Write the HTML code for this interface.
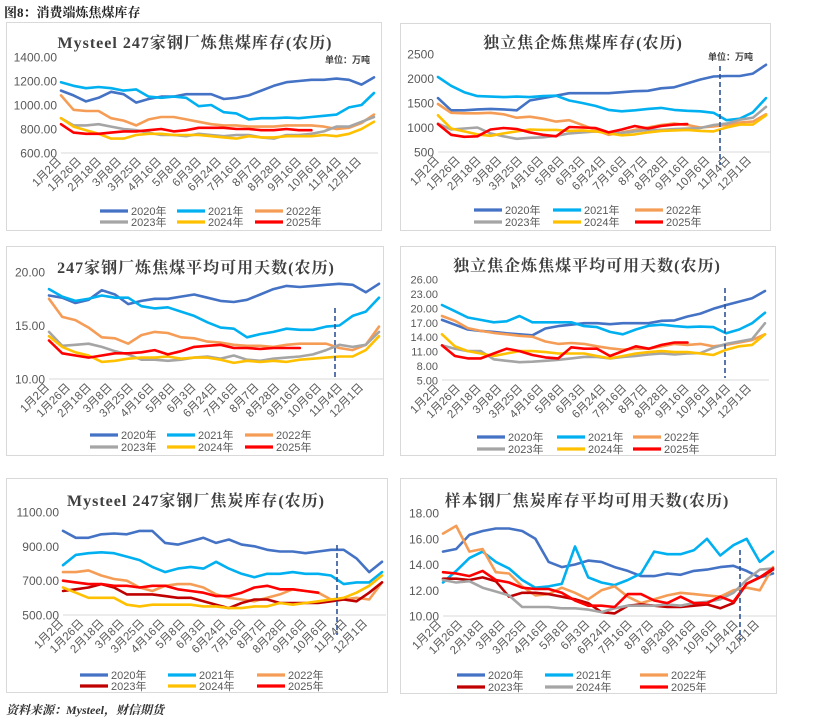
<!DOCTYPE html>
<html><head><meta charset="utf-8">
<style>
body{margin:0;background:#fff;}
svg{display:block;font-family:"Liberation Sans","Noto Sans CJK SC",sans-serif;}
.ttl{font-family:"Liberation Serif","Noto Serif CJK SC",serif;font-weight:bold;fill:#404040;font-size:16px;letter-spacing:1px;}
</style></head>
<body>
<svg id="c" width="831" height="718" viewBox="0 0 831 718" xmlns="http://www.w3.org/2000/svg">
<text x="4" y="17" font-size="13" font-weight="bold" fill="#222" font-family="'Liberation Serif','Noto Serif CJK SC',serif">图8：消费端炼焦煤库存</text>
<text x="6" y="714" font-size="12" font-style="italic" font-weight="bold" fill="#333" font-family="'Liberation Serif','Noto Serif CJK SC',serif">资料来源：Mysteel，财信期货</text>
</svg>
<script>
const categories=["1月2日","1月26日","2月18日","3月8日","3月25日","4月16日","5月8日","6月3日","6月24日","7月16日","8月7日","8月28日","9月16日","10月6日","11月4日","12月1日"];
const years=["2020年","2021年","2022年","2023年","2024年","2025年"];
// Panel 1
const p1_2020=[1120,1080,1030,1060,1110,1090,1020,1050,1070,1070,1090,1090,1090,1050,1060,1080,1120,1160,1190,1200,1210,1210,1220,1210,1170,1230];
const p1_2021=[1190,1160,1140,1150,1140,1120,1130,1070,1060,1070,1060,990,1000,940,930,880,890,890,895,890,900,910,920,980,1000,1100];
const p1_2022=[1080,960,950,950,890,870,830,880,900,900,880,860,840,830,830,820,820,820,830,830,830,820,800,810,850,920];
const p1_2023=[890,830,830,840,820,800,790,770,750,750,740,760,750,740,750,750,730,720,750,750,760,780,820,820,860,900];
const p1_2024=[890,820,790,760,720,720,750,760,760,750,750,750,740,730,720,740,730,730,740,740,740,750,740,760,800,860];
const p1_2025=[840,770,760,760,770,780,780,790,800,780,790,810,810,810,800,800,790,790,800,790,790];
const p1_ticks=[600,800,1000,1200,1400];
// Panel 2
const p2_2020=[1600,1350,1350,1370,1380,1370,1350,1550,1600,1650,1700,1700,1700,1700,1720,1740,1750,1800,1820,1900,1980,2040,2050,2050,2100,2280];
const p2_2021=[2030,1850,1720,1640,1630,1620,1630,1620,1640,1650,1550,1500,1440,1360,1330,1350,1380,1400,1360,1340,1330,1300,1150,1180,1310,1600];
const p2_2022=[1480,1300,1290,1290,1300,1270,1200,1220,1180,1120,1150,1050,950,850,900,950,1000,1050,1080,1050,1000,1020,1050,1100,1120,1270];
const p2_2023=[1080,960,980,1000,880,820,770,790,800,830,880,900,920,900,890,920,950,950,970,980,990,1050,1080,1160,1200,1420];
const p2_2024=[1250,980,920,860,830,880,920,960,950,950,930,940,920,880,840,860,900,930,940,950,930,920,1000,1060,1060,1250];
const p2_2025=[1070,850,810,820,960,990,970,900,850,820,1010,1000,990,900,960,1030,980,1030,1060,1070];
const p2_ticks=[500,1000,1500,2000,2500];
// Panel 3
const p3_2020=[17.8,17.6,17.1,17.4,18.3,17.9,17.0,17.3,17.5,17.5,17.7,17.9,17.6,17.3,17.2,17.4,17.9,18.4,18.7,18.6,18.7,18.8,18.9,18.8,18.1,18.9];
const p3_2021=[18.4,17.7,17.3,17.5,17.8,17.6,17.6,16.8,16.6,16.7,16.3,15.9,15.3,14.8,14.7,13.9,14.2,14.4,14.7,14.6,14.6,14.9,15.0,15.9,16.3,17.6];
const p3_2022=[17.5,15.8,15.5,14.8,13.9,13.8,13.3,14.1,14.4,14.3,13.9,13.8,13.5,13.4,13.2,13.1,13.1,13.0,13.2,13.3,13.3,13.3,12.9,12.7,13.2,14.9];
const p3_2023=[14.4,13.1,13.2,13.3,13.0,12.6,12.3,11.8,11.8,11.7,11.8,12.0,12.1,11.9,12.2,11.8,11.7,11.9,12.0,12.1,12.3,12.7,13.2,13.0,13.2,14.4];
const p3_2024=[14.0,13.0,12.5,12.2,11.6,11.7,11.9,12.0,12.0,12.1,11.9,12.0,12.0,11.8,11.5,11.7,11.6,11.7,11.6,11.8,11.9,12.0,12.1,12.1,12.7,14.0];
const p3_2025=[13.6,12.4,12.2,12.0,12.2,12.4,12.4,12.5,12.7,12.3,12.6,13.0,13.1,13.2,12.9,12.9,12.8,12.9,12.9,12.9];
const p3_ticks=[10,15,20];
// Panel 4
const p4_2020=[17.5,16.5,15.5,15.2,15.0,14.7,14.5,14.3,15.7,16.2,16.5,16.8,16.8,16.6,16.8,16.8,16.8,17.3,17.4,18.2,18.8,19.8,20.6,21.3,22.0,23.5];
const p4_2021=[20.6,19.3,18.0,17.5,17.0,17.2,18.3,17.0,17.0,17.0,17.0,16.2,16.0,15.0,14.5,15.5,16.3,16.5,16.2,16.0,16.1,16.0,14.7,15.5,16.8,19.0];
const p4_2022=[18.3,17.3,15.8,15.2,14.8,14.5,14.2,14.0,13.0,12.5,12.7,12.5,12.0,11.6,11.3,11.5,11.5,12.0,12.5,12.3,12.5,12.0,12.3,12.8,13.3,14.5];
const p4_2023=[12.2,11.5,11.0,11.0,9.3,9.0,8.7,8.8,9.0,9.2,9.5,9.8,9.8,9.5,9.8,10.0,10.3,10.5,10.3,10.5,10.6,11.7,12.5,13.0,13.5,16.8];
const p4_2024=[14.5,12.0,11.0,10.5,10.0,10.5,11.0,11.0,10.8,10.5,10.5,10.5,10.0,9.5,10.0,10.5,10.8,11.0,10.8,10.8,10.5,10.2,11.3,12.0,12.3,14.5];
const p4_2025=[12.2,10.0,9.5,9.5,10.5,11.5,11.0,10.2,9.7,9.5,11.8,11.5,11.5,10.0,11.0,12.0,11.5,12.3,12.8,12.8];
const p4_ticks=[5,8,11,14,17,20,23,26];
// Panel 5
const p5_2020=[990,950,950,970,975,970,990,990,920,910,930,950,920,940,910,900,880,870,870,860,870,880,880,830,750,810];
const p5_2021=[790,850,860,865,860,840,820,780,750,770,780,770,810,770,740,720,740,740,750,740,740,730,680,690,690,750];
const p5_2022=[750,750,760,730,710,700,660,640,670,680,680,660,620,600,590,580,600,620,650,640,630,590,590,600,590,690];
const p5_2023=[640,650,660,680,660,620,620,620,610,600,600,580,560,540,570,590,590,570,570,570,570,580,590,580,630,690];
const p5_2024=[660,630,600,600,600,560,550,560,560,560,560,550,550,540,540,550,550,570,560,570,580,590,600,630,670,730];
const p5_2025=[700,690,680,680,670,670,660,670,670,650,640,630,610,610,630,660,670,650,650,640,630];
const p5_ticks=[500,700,900,1100];
// Panel 6
const p6_2020=[15.0,15.2,16.3,16.6,16.8,16.8,16.6,16.0,14.2,13.8,14.0,14.3,14.2,13.8,13.5,13.1,13.1,13.3,13.2,13.5,13.6,13.8,13.9,13.5,13.0,13.3];
const p6_2021=[12.6,13.5,14.5,15.0,14.2,13.7,12.8,12.2,12.3,12.5,15.4,13.0,12.6,12.4,12.8,13.3,15.0,14.8,14.8,15.1,16.0,14.7,15.5,16.0,14.2,15.0];
const p6_2022=[16.4,17.0,15.0,15.2,13.4,13.3,12.3,11.6,11.7,12.2,11.8,11.3,12.0,12.3,11.5,11.0,11.3,11.6,11.8,11.7,11.6,11.5,12.0,12.2,12.0,13.8];
const p6_2023=[12.9,12.9,12.8,13.0,12.7,11.5,11.8,11.8,11.7,11.5,11.3,11.0,10.3,10.2,10.8,10.9,10.8,10.7,10.7,10.8,10.9,10.6,11.0,12.5,13.0,13.6];
const p6_2024=[12.8,12.6,12.7,12.2,11.9,11.6,10.7,10.7,10.7,10.6,10.6,10.5,10.3,10.6,10.8,10.8,10.8,10.9,10.8,11.0,11.1,11.3,11.8,12.8,13.6,13.7];
const p6_2025=[13.4,13.3,13.1,13.5,12.8,12.6,12.2,12.1,12.1,11.8,11.2,10.8,10.8,10.7,11.7,11.7,11.2,11.0,11.5,11.0,11.0,11.5,11.1,12.5,13.0,13.7];
const p6_ticks=[10,12,14,16,18];

const NS="http://www.w3.org/2000/svg";
const svg=document.getElementById('c');
const C6=["#4472C4","#00B0F0","#F59D56","#A5A5A5","#FFC000","#FF0000"];
const C5=["#4472C4","#00B0F0","#F59D56","#C00000","#FFC000","#FF0000"];
const C6b=["#4472C4","#00B0F0","#F59D56","#C00000","#A5A5A5","#FF0000"];
const panels=[
 {name:"p1",box:[6,22,375,208],x0:61,x1:374,vmin:600,vmax:1400,ybot:153,ytop:57,ticks:p1_ticks,dec:2,title:"Mysteel 247家钢厂炼焦煤库存(农历)",tx:195,ty:48,series:[p1_2020,p1_2021,p1_2022,p1_2023,p1_2024,p1_2025],colors:C6,unit:[325,63],dash:null,leg:[100,177,255],ly:[211,222],lab0:62,lab1:362,fs:12},
 {name:"p2",box:[400,23,370,207],x0:438,x1:766,vmin:500,vmax:2500,ybot:152,ytop:54,ticks:p2_ticks,dec:0,title:"独立焦企炼焦煤库存(农历)",tx:583,ty:48,series:[p2_2020,p2_2021,p2_2022,p2_2023,p2_2024,p2_2025],colors:C6,unit:[708,60],dash:[720,66,165],leg:[474,553,635],ly:[210,222],lab0:440,lab1:752,fs:12},
 {name:"p3",box:[6,246,377,209],x0:49,x1:379,vmin:10,vmax:20,ybot:379,ytop:272,ticks:p3_ticks,dec:2,title:"247家钢厂炼焦煤平均可用天数(农历)",tx:196,ty:273,series:[p3_2020,p3_2021,p3_2022,p3_2023,p3_2024,p3_2025],colors:C6,unit:null,dash:[335,308,380],leg:[90,167,245],ly:[435,447],lab0:50,lab1:364,fs:12},
 {name:"p4",box:[400,246,375,209],x0:442,x1:765,vmin:5,vmax:26,ybot:380,ytop:279,ticks:p4_ticks,dec:2,title:"独立焦企炼焦煤平均可用天数(农历)",tx:587,ty:271,series:[p4_2020,p4_2021,p4_2022,p4_2023,p4_2024,p4_2025],colors:C6,unit:null,dash:[725,288,378],leg:[477,557,633],ly:[437,449],lab0:440,lab1:752,fs:11},
 {name:"p5",box:[6,478,381,214],x0:63,x1:382,vmin:500,vmax:1100,ybot:615,ytop:512,ticks:p5_ticks,dec:2,title:"Mysteel 247家钢厂焦炭库存(农历)",tx:196,ty:506,series:[p5_2020,p5_2021,p5_2022,p5_2023,p5_2024,p5_2025],colors:C5,unit:null,dash:[337,545,635],leg:[80,168,257],ly:[675,686],lab0:64,lab1:368,fs:12},
 {name:"p6",box:[400,478,376,215],x0:443,x1:773,vmin:10,vmax:18,ybot:616,ytop:513,ticks:p6_ticks,dec:2,title:"样本钢厂焦炭库存平均可用天数(农历)",tx:587,ty:506,series:[p6_2020,p6_2021,p6_2022,p6_2023,p6_2024,p6_2025],colors:C6b,unit:null,dash:[740,550,640],leg:[457,545,640],ly:[675,687],lab0:442,lab1:760,fs:12}
];
function mk(tag,attrs,parent){const e=document.createElementNS(NS,tag);for(const k in attrs)e.setAttribute(k,attrs[k]);(parent||svg).appendChild(e);return e;}
panels.forEach(p=>{
 const g=mk('g',{});
 
 
 const b=mk('rect',{x:p.box[0]+0.5,y:p.box[1]+0.5,width:p.box[2],height:p.box[3],fill:'#fff',stroke:'#D9D9D9'},g);
 
 
 const n=26;
 const xs=i=>p.x0+(p.x1-p.x0)*i/(n-1);
 const ys=v=>p.ybot-(v-p.vmin)/(p.vmax-p.vmin)*(p.ybot-p.ytop);
 const t=mk('text',{x:p.tx,y:p.ty,'text-anchor':'middle',class:'ttl'},g);
 t.textContent=p.title;
 
 
 const gl=mk('line',{x1:p.x0,x2:p.x1+4,y1:ys(p.vmin),y2:ys(p.vmin),stroke:'#D9D9D9','stroke-width':1},g);
 
 
 p.ticks.forEach(v=>{
  const tl=mk('text',{x:p.x0-4,y:ys(v)+4.5,'text-anchor':'end','font-size':p.fs,fill:'#595959'},g);
  tl.textContent=v.toFixed(p.dec);
  
  
 });
 categories.forEach((c,i)=>{
  const x=p.lab0+(p.lab1-p.lab0)*i/(categories.length-1);
  const y=p.ybot+9;
  const cl=mk('text',{x:x,y:y,'text-anchor':'end','font-size':11.5,fill:'#595959',transform:`rotate(-45 ${x} ${y})`},g);
  cl.textContent=c;
  
  
 });
 if(p.unit){
  const u=mk('text',{x:p.unit[0],y:p.unit[1],'font-size':9,'font-weight':'bold',fill:'#404040'},g);
  u.textContent='单位：万吨';
  
  
 }
 p.series.forEach((s,k)=>{
  const d=s.map((v,i)=>(i?'L':'M')+xs(i).toFixed(1)+','+ys(v).toFixed(1)).join('');
  const pl=mk('path',{d:d,fill:'none',stroke:p.colors[k],'stroke-width':2.6,'stroke-linejoin':'round','stroke-linecap':'round'},g);
  
  
 });
 if(p.dash){
  const dl=mk('line',{x1:p.dash[0],x2:p.dash[0],y1:p.dash[1],y2:p.dash[2],stroke:'#2F5597','stroke-width':1.6,'stroke-dasharray':'5,3'},g);
  
  
 }
 years.forEach((yr,k)=>{
  const lx=p.leg[k%3], ly=p.ly[Math.floor(k/3)];
  const ll=mk('line',{x1:lx,x2:lx+28,y1:ly,y2:ly,stroke:p.colors[k],'stroke-width':3.2},g);
  
  
  const lt=mk('text',{x:lx+31,y:ly+4,'font-size':11,fill:'#595959'},g);
  lt.textContent=yr;
  
  
 });
});
</script>
</body></html>
